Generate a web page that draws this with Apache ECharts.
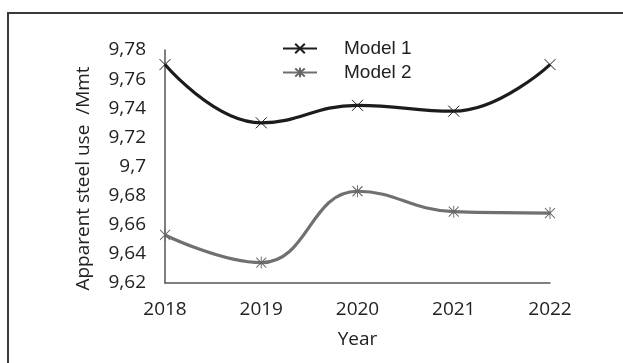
<!DOCTYPE html>
<html>
<head>
<meta charset="utf-8">
<script src="https://cdn.jsdelivr.net/npm/echarts@6/dist/echarts.min.js"></script>
<style>
  html, body { margin: 0; padding: 0; background: #fff; }
  #chart { width: 623px; height: 363px; }
</style>
</head>
<body>
<div id="chart"></div>
<script>
// Apparent steel use estimates per year for two models
const years = ['2018', '2019', '2020', '2021', '2022'];
const model1 = [9.770, 9.730, 9.742, 9.738, 9.770];
const model2 = [9.653, 9.634, 9.683, 9.669, 9.668];
const yMin = 9.62;
const yMax = 9.78;
const yStep = 0.02;

const crossMark = 'path://M0,0L10,10M10,0L0,10';
const starMark = 'path://M0,1L10,11M10,1L0,11M5,0L5,12';

// decimal comma, trailing zeros dropped (9,70 -> 9,7)
const fmt = v => String(parseFloat(v.toFixed(2))).replace('.', ',');

const textColor = '#222';
const chart = echarts.init(document.getElementById('chart'));
chart.setOption({
  animation: false,
  backgroundColor: '#ffffff',
  grid: { left: 165, right: 73, top: 50, bottom: 80 },
  graphic: [
    { type: 'line', shape: { x1: 8, y1: 13, x2: 8, y2: 363 },
      style: { stroke: '#3a3a3a', lineWidth: 2 } },
    { type: 'line', shape: { x1: 7, y1: 13, x2: 623, y2: 13 },
      style: { stroke: '#3a3a3a', lineWidth: 2 } }
  ],
  legend: {
    orient: 'vertical',
    left: 277,
    top: 34,
    itemWidth: 34,
    itemHeight: 12,
    itemGap: 5,
    textStyle: { fontFamily: 'Liberation Sans', fontSize: 19, color: textColor, padding: [0, 0, 0, 22] },
    data: ['Model 1', 'Model 2']
  },
  xAxis: {
    type: 'category',
    data: years,
    boundaryGap: false,
    axisLine: { lineStyle: { color: '#555', width: 1.5 } },
    axisTick: { show: false },
    axisLabel: { margin: 17, fontFamily: 'Open Sans', fontSize: 19, color: textColor },
    name: 'Year',
    nameLocation: 'middle',
    nameGap: 47,
    nameTextStyle: { fontFamily: 'Open Sans', fontSize: 19, color: textColor }
  },
  yAxis: {
    type: 'value',
    min: yMin,
    max: yMax,
    interval: yStep,
    splitLine: { show: false },
    axisLine: { show: true, lineStyle: { color: '#555', width: 1.5 } },
    axisTick: { show: false },
    axisLabel: { margin: 19, fontFamily: 'Open Sans', fontSize: 19, color: textColor, formatter: fmt },
    name: 'Apparent steel use  /Mmt',
    nameLocation: 'middle',
    nameGap: 72,
    nameTextStyle: { fontFamily: 'Open Sans', fontSize: 19, color: textColor, padding: [0, 24, 0, 0] }
  },
  series: [
    {
      name: 'Model 1',
      type: 'line',
      data: model1,
      smooth: 0.45,
      symbol: crossMark,
      symbolSize: 11,
      showAllSymbol: true,
      lineStyle: { color: '#1c1c1c', width: 3.2 },
      itemStyle: { color: '#1c1c1c', borderColor: '#1c1c1c', borderWidth: 1 },
      z: 3
    },
    {
      name: 'Model 2',
      type: 'line',
      data: model2,
      smooth: 0.45,
      symbol: starMark,
      symbolSize: [10, 12],
      showAllSymbol: true,
      lineStyle: { color: '#707070', width: 3.2 },
      itemStyle: { color: '#666', borderColor: '#666', borderWidth: 1 },
      z: 2
    }
  ]
});
</script>
</body>
</html>
